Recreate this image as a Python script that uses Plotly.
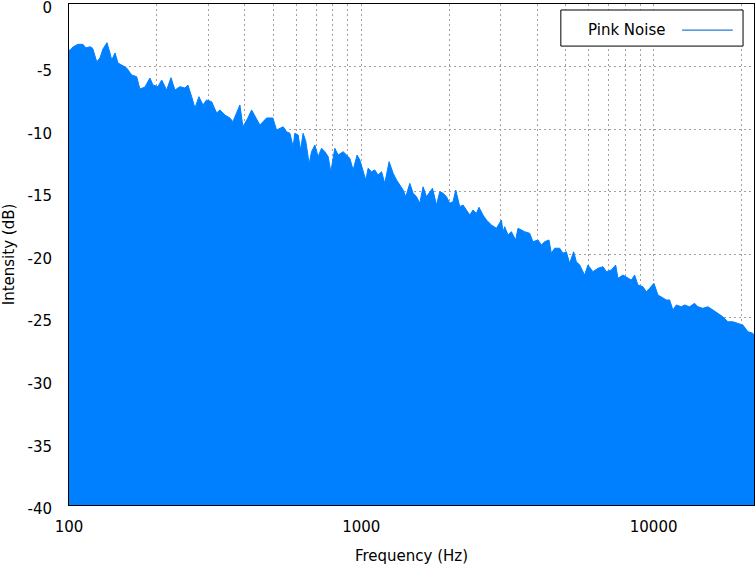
import numpy as np
import plotly.graph_objects as go

# spectrum envelope (Hz, dB)
freq = [100, 101, 103.4, 107.3, 111.6, 114.3, 118, 120.5, 124.4, 127.6, 130.7,
        134.9, 138.1, 140, 143.7, 147.1, 151.4, 157.5, 163.8, 170.4, 174.8,
        181.9, 189.2, 193.7, 201.5, 207.5, 215.8, 223.3, 230.4, 239.6, 249.3,
        255.2, 262.8, 269.7, 278.3, 287.2, 295.7, 307.6, 319.9, 328.3, 341.5,
        355.2, 363.7, 384.3, 393.5, 409.3, 421.4, 438.3, 449.8, 474.2, 498.2,
        513, 526.5, 540.3, 555, 569.6, 584.6, 592.4, 608, 619.6, 632.4, 646.1,
        663.1, 675.7, 693.5, 711.8, 731.1, 750.4, 770.1, 786.6, 811.8, 833.1,
        866.6, 890.1, 913.5, 937.6, 967.4, 988.3, 1014, 1036, 1055, 1084,
        1112, 1141, 1173, 1203, 1245, 1285, 1320, 1354, 1390, 1420, 1465,
        1504, 1545, 1585, 1627, 1671, 1715, 1752, 1808, 1855, 1904, 1956,
        2007, 2060, 2104, 2172, 2229, 2289, 2350, 2411, 2477, 2527, 2608,
        2680, 2787, 2899, 3015, 3053, 3094, 3176, 3261, 3374, 3436, 3529,
        3622, 3767, 3866, 4022, 4130, 4239, 4385, 4469, 4586, 4770, 4896,
        5028, 5161, 5326, 5440, 5584, 5808, 5961, 6200, 6450, 6709, 6891,
        7169, 7415, 7551, 7856, 8171, 8392, 8610, 8837, 9192, 9441, 9690,
        10023, 10344, 10760, 11052, 11343, 11640, 11957, 12437, 12763, 13275,
        13810, 14174, 14741, 15332, 15950, 16590, 17260, 17950, 18670, 19420,
        20200, 21010, 21850, 22050]
db = [-3.7, -3.67, -3.41, -3.22, -3.22, -3.51, -3.41, -3.54, -4.61, -4.31, -3.59,
      -3.09, -3.91, -4.47, -3.91, -4.71, -4.87, -5.11, -5.67, -5.80, -6.79,
      -6.63, -5.91, -6.47, -6.60, -6.07, -6.87, -5.88, -6.87, -6.60, -6.71,
      -6.47, -7.40, -8.30, -7.40, -8.06, -7.66, -7.80, -8.70, -8.46, -8.86,
      -9.10, -9.40, -8.06, -9.80, -9.10, -8.46, -9.26, -9.66, -9.10, -9.10,
      -10.06, -9.92, -9.80, -10.20, -10.32, -11.39, -10.32, -10.46, -11.66, -10.32, -10.99,
      -12.77, -11.79, -11.26, -12.19, -11.52, -11.79, -12.19, -13.39, -11.52, -12.06,
      -11.79, -12.06, -12.32, -13.25, -12.06, -12.46, -13.25, -14.05, -13.12, -13.39,
      -13.25, -13.65, -13.39, -14.32, -12.59, -13.52, -14.05, -14.45, -14.85, -15.39, -14.32,
      -15.11, -15.39, -15.91, -14.59, -15.39, -14.99, -14.71, -16.05, -14.99, -15.11, -15.39,
      -15.91, -15.78, -14.85, -16.18, -16.05, -16.45, -16.85, -16.45, -16.71, -16.23, -16.85,
      -17.25, -17.64, -17.91, -17.25, -18.18, -17.78, -18.44, -18.18, -18.84, -17.91, -18.04,
      -18.18, -18.31, -18.98, -18.84, -19.24, -18.98, -18.84, -19.90, -19.50, -19.50, -19.90,
      -19.78, -20.70, -19.78, -20.57, -20.84, -21.64, -20.84, -21.37, -21.10, -20.97, -21.37,
      -21.24, -20.84, -21.90, -21.64, -21.90, -22.04, -21.64, -22.44, -22.57, -22.97, -22.70,
      -22.30, -23.23, -23.50, -23.63, -23.63, -24.43, -24.03, -24.17, -24.03, -24.17,
      -23.90, -24.17, -24.30, -24.17, -24.43, -24.69, -24.97, -25.37, -25.37, -25.50,
      -25.63, -26.16, -26.29, -26.4]

x_grid = [100, 200, 300, 400, 500, 600, 700, 800, 900,
          1000, 2000, 3000, 4000, 5000, 6000, 7000, 8000, 9000,
          10000, 20000]
x_labels = ["100", "", "", "", "", "", "", "", "",
            "1000", "", "", "", "", "", "", "", "",
            "10000", ""]
y_ticks = [-40, -35, -30, -25, -20, -15, -10, -5, 0]
y_labels = ["-40", "-35", "-30", "-25", "-20", "-15", "-10", "-5", "0"]

blue = "#0080ff"
font = dict(family="DejaVu Sans", size=15, color="#000000")
grid = dict(showgrid=True, gridcolor="#a0a0a0", griddash="2px,3px", gridwidth=1)

fig = go.Figure()
fig.add_trace(go.Scatter(x=freq, y=np.full(len(freq), -40.0), mode="lines",
                         line=dict(width=0), hoverinfo="skip", showlegend=False))
fig.add_trace(go.Scatter(x=freq, y=db, mode="lines", name="Pink Noise",
                         line=dict(color=blue, width=1), fill="tonexty",
                         fillcolor=blue, showlegend=False))

# gnuplot-style key: text on the left, line sample on the right
fig.add_shape(type="rect", xref="paper", yref="paper", x0=0.718, x1=0.984,
              y0=0.916, y1=0.988, line=dict(color="black", width=1),
              fillcolor="white", layer="above")
fig.add_shape(type="line", xref="paper", yref="paper", x0=0.895, x1=0.969,
              y0=0.948, y1=0.948, line=dict(color="#2a78d0", width=1.2), layer="above")
fig.add_annotation(text="Pink Noise", xref="paper", yref="paper", x=0.873, y=0.948,
                   xanchor="right", yanchor="middle", showarrow=False, font=font)

fig.update_xaxes(type="log", range=[2, np.log10(22050)], automargin=False,
                 tickvals=x_grid, ticktext=x_labels, ticks="", **grid,
                 showline=True, linecolor="black", linewidth=1, mirror=True,
                 zeroline=False, tickfont=font, ticklabelstandoff=8,
                 title=dict(text="Frequency (Hz)", font=font, standoff=16))
fig.update_yaxes(range=[-40, 0], automargin=False,
                 tickvals=y_ticks, ticktext=y_labels, ticks="", **grid,
                 showline=True, linecolor="black", linewidth=1, mirror=True,
                 zeroline=False, tickfont=font, ticklabelstandoff=13,
                 ticklabelshift=4, ticklabeloverflow="allow",
                 title=dict(text="Intensity (dB)", font=font, standoff=10))

fig.update_layout(width=755, height=565, margin=dict(l=69, r=1, t=4, b=60),
                  plot_bgcolor="white", paper_bgcolor="white", font=font)

fig.write_html("out.html", config={"displayModeBar": False},
               post_script="document.body.style.margin = '0px';")
